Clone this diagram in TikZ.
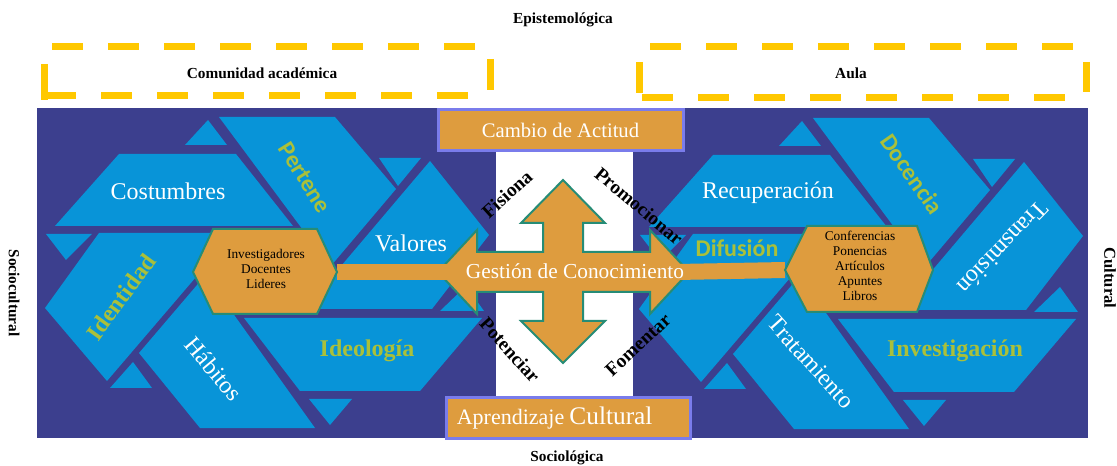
\documentclass[tikz,border=0pt]{standalone}
\usepackage{fontspec}
\setmainfont{Liberation Serif}
\newfontfamily\calib{Carlito}
\usetikzlibrary{calc}
\definecolor{navy}{RGB}{60,63,142}
\definecolor{lblue}{RGB}{8,148,216}
\definecolor{orng}{RGB}{222,156,62}
\definecolor{tealb}{RGB}{38,140,118}
\definecolor{boxborder}{RGB}{122,124,235}
\definecolor{ygreen}{RGB}{170,192,58}
\definecolor{yel}{RGB}{255,200,0}
\newcommand\drawbands{%
  \fill[lblue] (185,145)--(208,120)--(227,145)--cycle;
  \fill[lblue] (119,154)--(236,154)--(293,226)--(55,226)--cycle;
  \fill[lblue] (219,117)--(335,117)--(396,189)--(330,267)--(300,226)--cycle;
  \fill[lblue] (379,158)--(421,158)--(398,186)--cycle;
  \fill[lblue] (430,161)--(489,235)--(432,309)--(318,309)--(336,272)--cycle;
  \fill[lblue] (440,311)--(484,311)--(466,286)--cycle;
  \fill[lblue] (244,318)--(482,318)--(420,391)--(300,391)--cycle;
  \fill[lblue] (309,399)--(352,399)--(330,425)--cycle;
  \fill[lblue] (139,353)--(200,428)--(315,428)--(232,312)--(210,300)--(203,278)--cycle;
  \fill[lblue] (110,388)--(133,362)--(152,388)--cycle;
  \fill[lblue] (46,234)--(92,234)--(66,260)--cycle;
  \fill[lblue] (99,233)--(212,233)--(202,270)--(107,381)--(45,308)--cycle;
}
\begin{document}
\begin{tikzpicture}[x=0.75pt,y=-0.75pt,
  wlab/.style={text=white,font=\fontsize{18}{20}\selectfont,inner sep=0pt},
  glab/.style={text=ygreen,font=\fontsize{18}{20}\selectfont\bfseries,inner sep=0pt},
  slab/.style={text=ygreen,font=\calib\fontsize{18}{20}\selectfont\bfseries,inner sep=0pt},
  verb/.style={font=\fontsize{14.5}{16}\selectfont\bfseries,inner sep=0pt},
  outer/.style={font=\fontsize{11.5}{13}\selectfont\bfseries,inner sep=0pt},
  obox/.style={draw=boxborder,line width=2.25pt,fill=orng,text=white,font=\fontsize{15.5}{18}\selectfont,inner sep=0pt},
  hexa/.style={draw=tealb,line width=1.5pt,fill=orng},
  hext/.style={font=\fontsize{10}{11.25}\selectfont,align=center,inner sep=0pt},
  bar/.style={draw=orng,line width=12pt},
  ydash/.style={draw=yel,line width=5.25pt,dash pattern=on 23.25pt off 18.75pt},
  yside/.style={draw=yel,line width=5.25pt}]
\useasboundingbox (0,0) rectangle (1117,466);
\fill[white] (0,0) rectangle (1117,466);
% background panel
\fill[navy] (37,108) rectangle (1088,438);
\drawbands
\begin{scope}[shift={(594,1)}]
\drawbands
\end{scope}
% white centre strip
\fill[white] (496,151) rectangle (633,398);
% top / bottom boxes
\node[obox,minimum width=183.75pt,minimum height=30.75pt] (cambio) at (560.5,130.5) {Cambio de Actitud};
\node[obox,minimum width=183pt,minimum height=30pt] (aprend) at (568,418) {{\fontsize{16.5}{19}\selectfont Aprendizaje} {\fontsize{19}{21}\selectfont Cultural}\hspace*{20pt}};
% band labels (left)
\node[wlab] (costumbres) at (168,191) {Costumbres};
\node[slab,rotate=-58] (pertene) at (305,178) {Pertene};
\node[wlab] (valores) at (411,243) {Valores};
\node[glab,rotate=54] (identidad) at (121,297) {Identidad};
\node[wlab,rotate=-50] (habitos) at (214,369) {Hábitos};
\node[glab] (ideologia) at (367,351) {Ideología};
% band labels (right)
\node[wlab] (recuperacion) at (768,193) {Recuperación};
\node[slab,rotate=-55] (docencia) at (912,174) {Docencia};
\node[wlab,rotate=226] (transmision) at (1003,248) {Transmisión};
\node[slab] (difusion) at (737,248) {Difusión};
\node[wlab,rotate=-48] (tratamiento) at (811,362) {Tratamiento};
\node[glab] (investigacion) at (955,351) {Investigación};
% central four-way arrow
\draw[hexa] (563,180)--(605,223)--(583,223)--(583,252)--(650,252)--(650,230)--(689,272)--(650,314)--(650,292)--(583,292)--(583,321)--(605,321)--(563,363)--(521,321)--(543,321)--(543,292)--(477,292)--(477,314)--(438,272)--(477,230)--(477,252)--(543,252)--(543,223)--(521,223)--cycle;
\coordinate (aL) at (438,272);
\coordinate (aR) at (689,272);
\coordinate (hLe) at (337,272);
\coordinate (hRw) at (785,270);
% connector bars
\draw[bar] (hLe) -- ($(aL)+(12,0)$);
\draw[bar] ($(aR)+(-12,0)$) -- (hRw);
% hexagons
\draw[hexa] (193,272)--(213,229)--(317,229)--(hLe)--(317,314)--(213,314)--cycle;
\draw[hexa] (hRw)--(807,226)--(917,226)--(933,270)--(917,312)--(807,312)--cycle;
\node[hext] (hexL) at (266,269) {Investigadores\\Docentes\\Lideres};
\node[hext] (hexR) at (860,266) {Conferencias\\Ponencias\\Artículos\\Apuntes\\Libros};
\node[wlab,font=\fontsize{16}{18}\selectfont] (gestion) at (575,271) {Gestión de Conocimiento};
% verbs
\node[verb,rotate=42] (fisiona) at (507,194) {Fisiona};
\node[verb,rotate=-40] (promocionar) at (639,206) {Promocionar};
\node[verb,rotate=-48] (potenciar) at (510,350) {Potenciar};
\node[verb,rotate=43] (fomentar) at (638,345) {Fomentar};
% outer labels
\node[outer] (epist) at (563,20) {Epistemológica};
\node[outer] (socio) at (567,458) {Sociológica};
\node[outer,rotate=-90] (sociocult) at (14,293) {Sociocultural};
\node[outer,rotate=-90,font=\fontsize{12.5}{14}\selectfont\bfseries] (cultural) at (1110,278) {Cultural};
\node[outer] (comunidad) at (262,73) {Comunidad académica};
\node[outer] (aula) at (851,73) {Aula};
% dashed yellow frames
\draw[ydash] (52,47) -- (482,47);
\draw[ydash] (45,96) -- (475,96);
\draw[yside] (44,64) -- (44,100);
\draw[yside] (490,59) -- (490,90);
\draw[ydash] (650,47) -- (1082,47);
\draw[ydash] (642,98) -- (1072,98);
\draw[yside] (639,62) -- (639,93);
\draw[yside] (1086,62) -- (1086,92);
\end{tikzpicture}
\end{document}
